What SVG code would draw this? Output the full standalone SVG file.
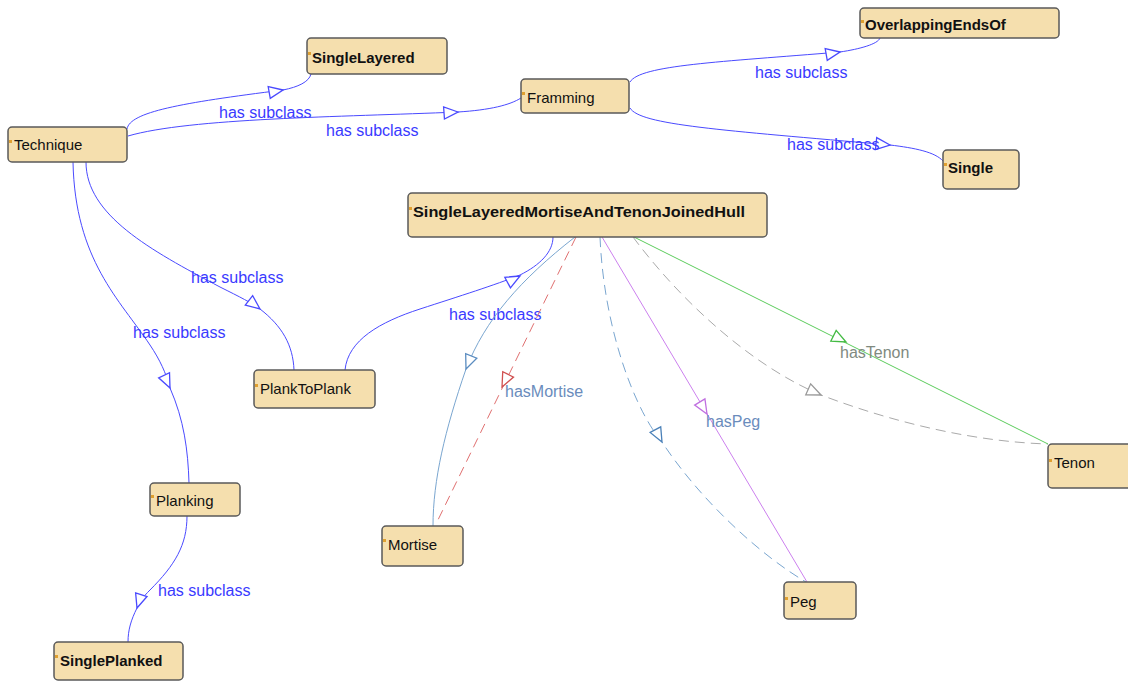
<svg xmlns="http://www.w3.org/2000/svg" width="1128" height="681" viewBox="0 0 1128 681">
<style>
.node rect.box{fill:#f5dfae;stroke:#5a5a5a;stroke-width:1.5}
.node rect.dot{fill:#e0a030}
.node text{font-family:"Liberation Sans",Arial,sans-serif;font-size:15px;fill:#111}
.node text.b{font-weight:bold}
.edges path{fill:none;stroke-width:1}
.sub{stroke:#4a4aff}
.lbl{font-family:"Liberation Sans",Arial,sans-serif;font-size:16px}
.lsub{fill:#3a3aff}
.arr{fill:#fff;stroke-width:1.3}
</style>
<defs>
<path id="tri" d="M0,0 L-14,-6 L-14,6 Z"/>
</defs>
<rect width="1128" height="681" fill="#fff"/>
<g id="connectors" class="edges">
  <path class="sub" d="M127,129 C130,112 180,103 283,90 C298,87 309,82 311,74"/>
  <use href="#tri" class="arr" stroke="#4a4aff" transform="translate(283,90) rotate(-10)"/>
  <text class="lbl lsub" x="219" y="118">has subclass</text>
  <path class="sub" d="M128,136 C190,118 340,117 458,112 C490,110 510,105 521,98"/>
  <use href="#tri" class="arr" stroke="#4a4aff" transform="translate(458,112) rotate(-4)"/>
  <text class="lbl lsub" x="326" y="136">has subclass</text>
  <path class="sub" d="M630,82 C640,65 720,62 840,52 C860,49 878,44 880,38"/>
  <use href="#tri" class="arr" stroke="#4a4aff" transform="translate(840,52) rotate(-10)"/>
  <text class="lbl lsub" x="755" y="78">has subclass</text>
  <path class="sub" d="M630,108 C640,125 720,130 890,145 C915,148 935,152 943,161"/>
  <use href="#tri" class="arr" stroke="#4a4aff" transform="translate(890,145) rotate(6)"/>
  <text class="lbl lsub" x="787" y="150">has subclass</text>
  <path class="sub" d="M86,162 C86,215 150,250 220,287 C240,297 252,303 260,309 C282,326 293,345 294,370"/>
  <use href="#tri" class="arr" stroke="#4a4aff" transform="translate(260,309) rotate(38)"/>
  <text class="lbl lsub" x="191" y="283">has subclass</text>
  <path class="sub" d="M73,162 C75,260 120,300 150,345 C160,360 166,373 170,388 C184,420 188,450 189,483"/>
  <use href="#tri" class="arr" stroke="#4a4aff" transform="translate(170,388) rotate(65)"/>
  <text class="lbl lsub" x="133" y="338">has subclass</text>
  <path class="sub" d="M187,516 C187,545 175,565 150,590 C143,597 139,602 137,608 C131,620 128,630 128,642"/>
  <use href="#tri" class="arr" stroke="#4a4aff" transform="translate(137,608) rotate(108)"/>
  <text class="lbl lsub" x="158" y="596">has subclass</text>
  <path class="sub" d="M345,370 C348,340 380,322 420,309 C460,296 495,285 520,275 C540,265 553,252 553,237"/>
  <use href="#tri" class="arr" stroke="#4a4aff" transform="translate(520,276) rotate(-28)"/>
  <text class="lbl lsub" x="449" y="320">has subclass</text>
  <path stroke="#7aa6d0" d="M575,237 C520,280 485,320 466,369 C445,430 433,480 433,526"/>
  <use href="#tri" class="arr" stroke="#5a8cc0" transform="translate(466,369) rotate(112)"/>
  <path stroke="#e07070" stroke-dasharray="10,6" d="M576,237 L436,524"/>
  <use href="#tri" class="arr" stroke="#d05050" transform="translate(502,387) rotate(116)"/>
  <text class="lbl" fill="#6a8cbc" x="505" y="397">hasMortise</text>
  <path stroke="#7aa6d0" stroke-dasharray="10,6" d="M600,237 C604,330 635,410 662,442 C700,500 760,555 806,582"/>
  <use href="#tri" class="arr" stroke="#4a80b8" transform="translate(662,442) rotate(62)"/>
  <path stroke="#cc80ee" d="M602,237 L807,582"/>
  <use href="#tri" class="arr" stroke="#c070e0" transform="translate(707,414) rotate(59)"/>
  <text class="lbl" fill="#6a8cbc" x="706" y="427">hasPeg</text>
  <path stroke="#aaaaaa" stroke-dasharray="10,6" d="M633,237 C680,300 750,365 821,395 C900,425 980,442 1048,444"/>
  <use href="#tri" class="arr" stroke="#999999" transform="translate(821,395) rotate(24)"/>
  <path stroke="#5ccc5c" d="M634,237 L1048,444"/>
  <use href="#tri" class="arr" stroke="#44bb44" transform="translate(846,342) rotate(26.6)"/>
  <text class="lbl" fill="#808a80" x="840" y="358">hasTenon</text>
</g>
<g id="n-technique" class="node"><rect class="box" x="8" y="127" width="119" height="35" rx="4"/><rect class="dot" x="9" y="140" width="3" height="3"/><text x="14" y="150">Technique</text></g>
<g id="n-singlelayered" class="node"><rect class="box" x="307" y="38" width="140" height="36" rx="4"/><rect class="dot" x="308" y="52" width="3" height="3"/><text class="b" x="312" y="63">SingleLayered</text></g>
<g id="n-framming" class="node"><rect class="box" x="521" y="79" width="108" height="34" rx="4"/><rect class="dot" x="522" y="92" width="3" height="3"/><text x="527" y="103">Framming</text></g>
<g id="n-overlapping" class="node"><rect class="box" x="860" y="8" width="199" height="30" rx="4"/><rect class="dot" x="861" y="20" width="3" height="3"/><text class="b" x="865" y="30">OverlappingEndsOf</text></g>
<g id="n-single" class="node"><rect class="box" x="943" y="150" width="76" height="39" rx="4"/><rect class="dot" x="944" y="163" width="3" height="3"/><text class="b" x="948" y="173">Single</text></g>
<g id="n-hull" class="node"><rect class="box" x="408" y="193" width="359" height="44" rx="4"/><rect class="dot" x="409" y="207" width="3" height="3"/><text class="b" x="413" y="217" textLength="332" lengthAdjust="spacingAndGlyphs">SingleLayeredMortiseAndTenonJoinedHull</text></g>
<g id="n-planktoplank" class="node"><rect class="box" x="254" y="370" width="121" height="38" rx="4"/><rect class="dot" x="255" y="384" width="3" height="3"/><text x="260" y="394">PlankToPlank</text></g>
<g id="n-planking" class="node"><rect class="box" x="150" y="483" width="90" height="33" rx="4"/><rect class="dot" x="151" y="495" width="3" height="3"/><text x="156" y="506">Planking</text></g>
<g id="n-singleplanked" class="node"><rect class="box" x="54" y="642" width="129" height="38" rx="4"/><rect class="dot" x="55" y="655" width="3" height="3"/><text class="b" x="60" y="666">SinglePlanked</text></g>
<g id="n-mortise" class="node"><rect class="box" x="382" y="526" width="81" height="40" rx="4"/><rect class="dot" x="383" y="539" width="3" height="3"/><text x="388" y="550">Mortise</text></g>
<g id="n-peg" class="node"><rect class="box" x="784" y="582" width="72" height="37" rx="4"/><rect class="dot" x="785" y="597" width="3" height="3"/><text x="790" y="607">Peg</text></g>
<g id="n-tenon" class="node"><rect class="box" x="1048" y="444" width="90" height="44" rx="4"/><rect class="dot" x="1049" y="459" width="3" height="3"/><text x="1054" y="468">Tenon</text></g>
</svg>
